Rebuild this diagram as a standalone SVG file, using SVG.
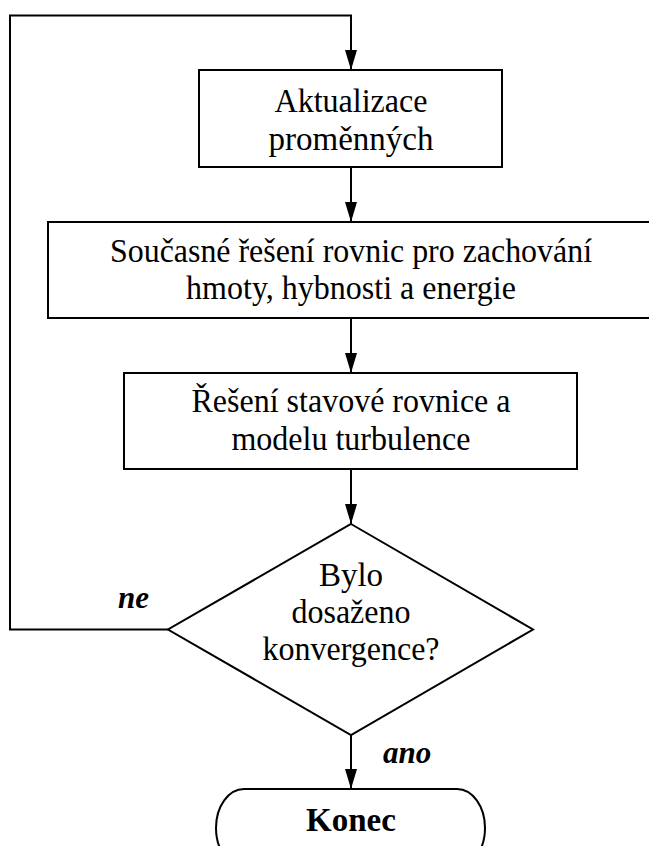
<svg xmlns="http://www.w3.org/2000/svg" width="649" height="846" viewBox="0 0 649 846">
<defs>
<marker id="ah" markerWidth="20" markerHeight="12" refX="20" refY="6" viewBox="0 0 20 12" orient="auto" markerUnits="userSpaceOnUse">
<path d="M0,0 L20,6 L0,12 Z" fill="#000"/>
</marker>
<style>
.box{fill:#fff;stroke:#000;stroke-width:2}
.ln{fill:none;stroke:#000;stroke-width:2}
.t{font-family:"Liberation Serif","Times New Roman",serif;font-size:33px;text-anchor:middle;fill:#000}
.lb{font-family:"Liberation Serif","Times New Roman",serif;font-size:31px;font-weight:bold;font-style:italic;fill:#000}
</style>
</defs>
<rect width="649" height="846" fill="#fff"/>
<g id="connectors">
<path class="ln" d="M168,629.5 H10 V15.5 H351 V70" marker-end="url(#ah)"/>
<path class="ln" d="M351,167 V222" marker-end="url(#ah)"/>
<path class="ln" d="M351,318 V373" marker-end="url(#ah)"/>
<path class="ln" d="M351,469 V524" marker-end="url(#ah)"/>
<path class="ln" d="M351,735 V789" marker-end="url(#ah)"/>
<text class="lb" x="118" y="608">ne</text>
<text class="lb" x="383" y="763">ano</text>
</g>
<g id="n1">
<rect class="box" x="199" y="70" width="303" height="97"/>
<text class="t" x="351" y="111.5" textLength="153" lengthAdjust="spacingAndGlyphs">Aktualizace</text>
<text class="t" x="351" y="150">proměnných</text>
</g>
<g id="n2">
<rect class="box" x="48" y="222" width="610" height="96"/>
<text class="t" x="351" y="262" textLength="482" lengthAdjust="spacingAndGlyphs">Současné řešení rovnic pro zachování</text>
<text class="t" x="351" y="299" transform="translate(351 0) scale(0.97 1) translate(-351 0)">hmoty, hybnosti a energie</text>
</g>
<g id="n3">
<rect class="box" x="124" y="373" width="453" height="96"/>
<text class="t" x="351" y="412" transform="translate(351 0) scale(0.97 1) translate(-351 0)">Řešení stavové rovnice a</text>
<text class="t" x="351" y="450" transform="translate(351 0) scale(0.97 1) translate(-351 0)">modelu turbulence</text>
</g>
<g id="n4">
<polygon class="box" points="351,524 533,629.5 351,735 168,629.5"/>
<text class="t" x="351" y="586">Bylo</text>
<text class="t" x="351" y="623" transform="translate(351 0) scale(0.97 1) translate(-351 0)">dosaženo</text>
<text class="t" x="351" y="660" transform="translate(351 0) scale(0.97 1) translate(-351 0)">konvergence?</text>
</g>
<g id="n5">
<rect class="box" x="216" y="789" width="269" height="78" rx="28" ry="39"/>
<text class="t" x="351" y="831" font-weight="bold">Konec</text>
</g>
</svg>
